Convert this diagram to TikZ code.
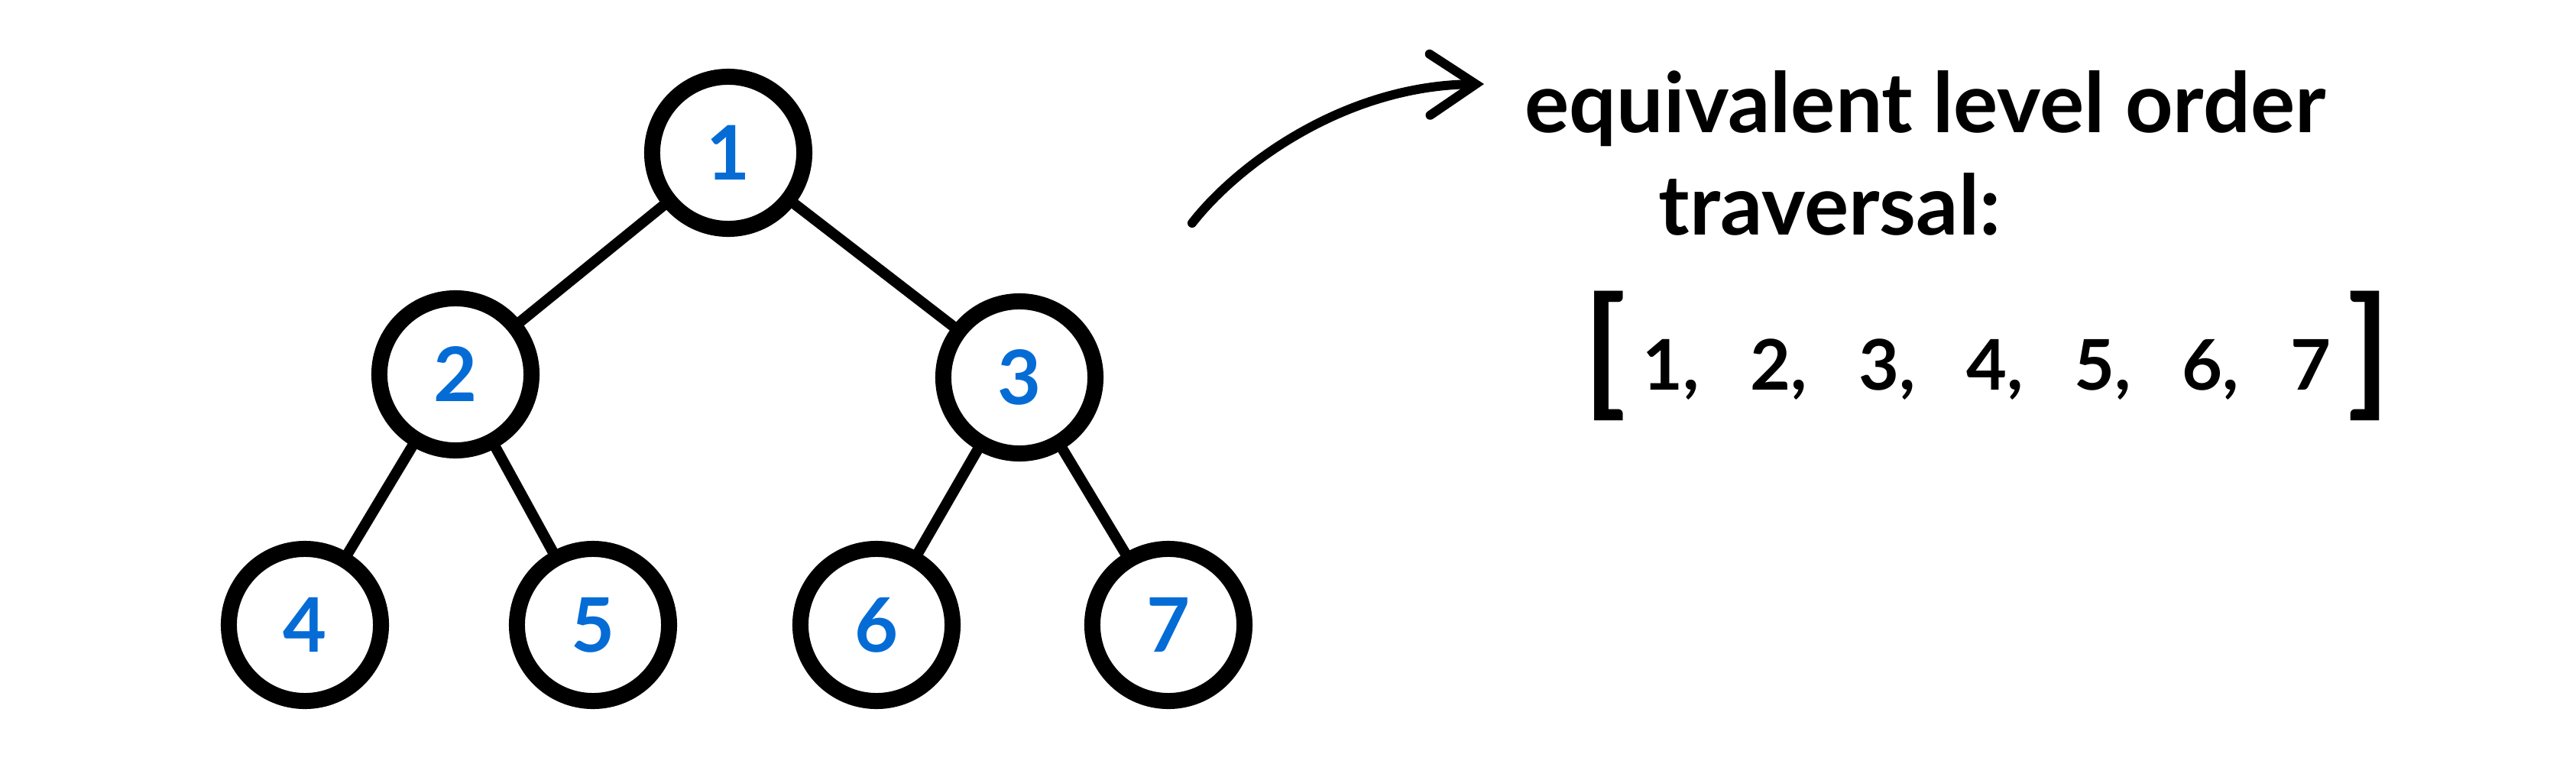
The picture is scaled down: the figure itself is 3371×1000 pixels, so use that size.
\documentclass[tikz,border=0pt]{standalone}
\usepackage{fontspec}
\setmainfont{Lato}
\usetikzlibrary{arrows.meta}
\definecolor{numblue}{RGB}{5,108,214}
\begin{document}
\begin{tikzpicture}[x=0.01cm,y=-0.01cm,
  tnode/.style={circle, draw=black, line width=0.21cm, minimum size=1.99cm,
    inner sep=0pt, text=numblue, font=\fontsize{28}{28}\selectfont\bfseries},
  edge/.style={line width=0.14cm, line cap=round},
  note/.style={inner sep=0pt, font=\fontsize{31}{31}\selectfont\bfseries},
  pointer/.style={line width=0.12cm, line cap=round,
    -{Straight Barb[length=0.6cm, width=0.8cm, line cap=round]}}]
\useasboundingbox (0,0) rectangle (3371,1000);

% tree nodes
\node[tnode] (n1) at (953,200) {1};
\node[tnode] (n2) at (596,490) {2};
\node[tnode] (n3) at (1334,494) {3};
\node[tnode] (n4) at (399,818) {4};
\node[tnode] (n5) at (776,818) {5};
\node[tnode] (n6) at (1147,818) {6};
\node[tnode] (n7) at (1529,818) {7};

% edges
\draw[edge] (n1) -- (n2);
\draw[edge] (n1) -- (n3);
\draw[edge] (n2) -- (n4);
\draw[edge] (n2) -- (n5);
\draw[edge] (n3) -- (n6);
\draw[edge] (n3) -- (n7);

% note text
\node[note, anchor=base west] (t1) at (1995,173) {equivalent level order};
\node[note, anchor=base west] (t2) at (2170,307) {traversal:};
\node[inner sep=0pt, anchor=base, font=\fontsize{26}{26}\selectfont\bfseries] (list) at (2600,510)
  {\raisebox{-0.12cm}{\fontsize{52}{52}\selectfont[}\hspace{6pt}{\spaceskip=19pt\relax 1, 2, 3, 4, 5, 6, 7}\hspace{6pt}\raisebox{-0.12cm}{\fontsize{52}{52}\selectfont]}};

% arrow
\coordinate (astart) at (1560,292);
\coordinate (aend) at (1942,110);
\draw[pointer] (astart) .. controls (1620,215) and (1760,112) .. (aend);
\end{tikzpicture}
\end{document}
